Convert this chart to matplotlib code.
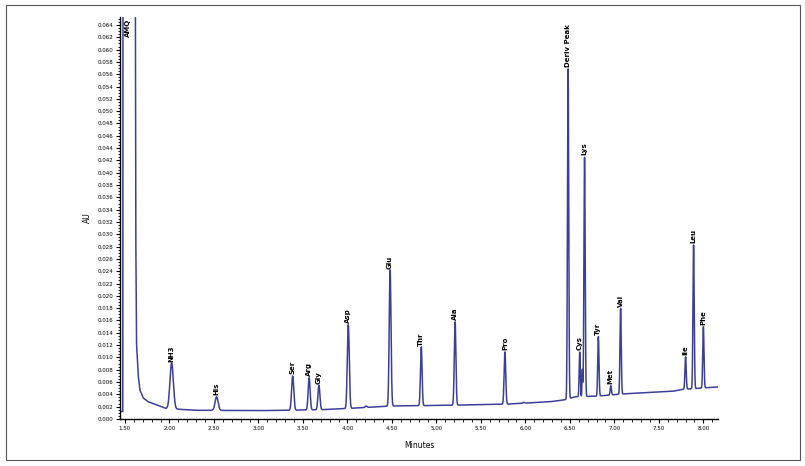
import numpy as np
import matplotlib
matplotlib.use('Agg')
import matplotlib.pyplot as plt
from matplotlib.patches import Rectangle
from matplotlib.ticker import MultipleLocator, FormatStrFormatter

# peak table: name, retention time (min), apex (AU), width (min)
peak_names = ["NH3", "His", "Ser", "Arg", "Gly", "Asp", "Glu", "Thr", "Ala", "Pro",
              "Deriv Peak", "Cys", "", "Lys", "Tyr", "Met", "Val", "Ile", "Leu", "Phe", "", ""]
peak_times = [2.025, 2.53, 3.385, 3.57, 3.68, 4.01, 4.48, 4.83, 5.21, 5.77,
              6.48, 6.61, 6.64, 6.665, 6.82, 6.96, 7.07, 7.80, 7.89, 8.00, 4.21, 5.98]
peak_tops = [0.0091, 0.0036, 0.0070, 0.0067, 0.0055, 0.0153, 0.0242, 0.0117, 0.0158, 0.0109,
             0.0570, 0.0109, 0.0080, 0.0426, 0.0134, 0.0054, 0.0180, 0.0101, 0.0283, 0.0150,
             0.0021, 0.0027]
peak_widths = [0.019, 0.017, 0.012, 0.011, 0.011, 0.011, 0.010, 0.009, 0.009, 0.009,
               0.007, 0.006, 0.004, 0.007, 0.007, 0.007, 0.007, 0.007, 0.007, 0.007,
               0.010, 0.010]

# AMQ reagent front + tail, and the drifting baseline (time, AU)
base_t = [1.44, 1.476, 1.479, 1.615, 1.622, 1.63, 1.65, 1.669, 1.706, 1.76, 1.856, 1.96,
          2.3, 3.0, 3.3, 3.7, 4.0, 4.5, 5.04, 5.79, 6.28, 6.44, 6.56, 6.80, 7.13, 7.66, 7.77, 8.16]
base_au = [0.0012, 0.0012, 0.09, 0.09, 0.03, 0.0123, 0.0069, 0.0047, 0.0034, 0.0028, 0.0023, 0.0017,
           0.0014, 0.00135, 0.0014, 0.0015, 0.0017, 0.0021, 0.0022, 0.0024, 0.0028, 0.0031, 0.0036,
           0.0037, 0.0041, 0.0045, 0.0048, 0.0052]

t = np.linspace(1.44, 8.17, 6000)
base = np.interp(t, base_t, base_au)
trace = base.copy()
for rt, top, w in zip(peak_times, peak_tops, peak_widths):
    amp = top - np.interp(rt, base_t, base_au)
    trace += amp * np.exp(-0.5 * ((t - rt) / w) ** 2)

fig = plt.figure(figsize=(8.05, 4.66), dpi=100)
fig.patches.append(Rectangle((0.007, 0.012), 0.987, 0.977, transform=fig.transFigure,
                             fill=False, edgecolor='#555555', linewidth=0.8))
ax = fig.add_axes([0.149, 0.101, 0.743, 0.8625])
ax.plot(t, trace, color='#3b3f98', linewidth=1.1)

ax.set_xlim(1.444, 8.165)
ax.set_ylim(0, 0.0653)
ax.xaxis.set_major_locator(MultipleLocator(0.5))
ax.xaxis.set_minor_locator(MultipleLocator(0.1))
ax.yaxis.set_major_locator(MultipleLocator(0.002))
ax.yaxis.set_minor_locator(MultipleLocator(0.0005))
ax.xaxis.set_major_formatter(FormatStrFormatter('%.2f'))
ax.yaxis.set_major_formatter(FormatStrFormatter('%.3f'))
ax.tick_params(axis='both', which='major', labelsize=4, length=3, width=0.8, pad=2)
ax.tick_params(axis='both', which='minor', length=1.8, width=0.6)
for s in ['top', 'right']:
    ax.spines[s].set_visible(False)
for s in ['left', 'bottom']:
    ax.spines[s].set_linewidth(1.0)

ax.set_xlabel('Minutes', fontsize=5.5, labelpad=7)
ax.set_ylabel('AU', fontsize=5.5, labelpad=4)

for name, rt, top in zip(peak_names, peak_times, peak_tops):
    if name:
        ax.annotate(name, (rt, top), xytext=(0, 1), textcoords='offset points',
                    rotation=90, ha='center', va='bottom', fontsize=5, fontweight='bold')
ax.text(1.535, 0.0650, 'AMQ', rotation=90, ha='center', va='top', fontsize=5, fontweight='bold')

fig.savefig('out.png', dpi=100)
